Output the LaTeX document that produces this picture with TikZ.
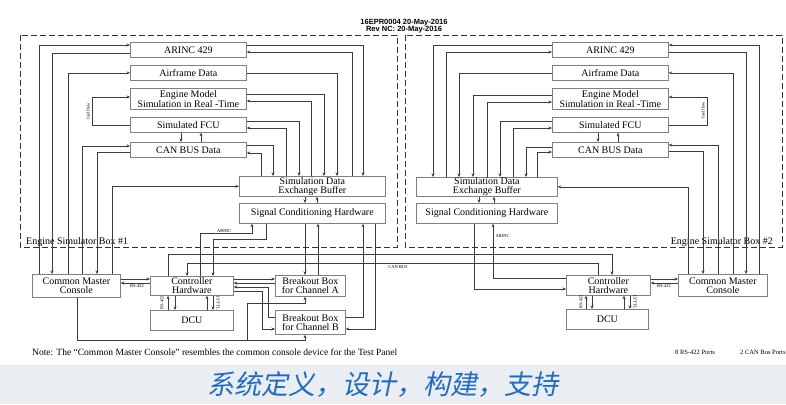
\documentclass[tikz,border=0pt]{standalone}
\usepackage{fontspec}
\setmainfont{Liberation Serif}
\setsansfont{Liberation Sans}
\newfontfamily\cjkfont[FakeSlant=0.2]{Noto Sans CJK SC}
\usetikzlibrary{arrows.meta}
\definecolor{BoxGray}{RGB}{128,128,128}
\definecolor{LineGray}{RGB}{60,60,60}
\definecolor{SloganBlue}{RGB}{31,108,196}
\definecolor{BandGray}{RGB}{234,237,241}
\tikzset{
    unit box/.style={draw=BoxGray, line width=0.7pt, fill=white, anchor=north west, inner sep=0pt, align=center, font=\fontsize{10}{9}\selectfont},
    link/.style={draw=LineGray, line width=0.6pt, -{Stealth[length=3.5pt,width=3pt]}},
    tiny label/.style={font=\fontsize{4.5}{5}\selectfont, inner sep=0.5pt},
    sim frame/.style={draw=black!80, line width=0.9pt, dash pattern=on 6pt off 3pt},
}

\begin{document}
\begin{tikzpicture}[x=1pt, y=-1pt]
    \useasboundingbox (0,0) rectangle (786,404);
    \fill[BandGray] (0,365) rectangle (786,404);

    % frames of the two simulator boxes
    \draw[sim frame] (20,35) rectangle (397,247);
    \draw[sim frame] (405,35) rectangle (782,247);
    \node[anchor=south west, inner sep=0pt, font=\fontsize{10}{9}\selectfont] (frameL) at (26,247) {Engine Simulator Box \#1};
    \node[anchor=south east, inner sep=0pt, font=\fontsize{10}{9}\selectfont] (frameR) at (773,247) {Engine Simulator Box \#2};
    \node[font=\sffamily\bfseries\fontsize{7.5}{7}\selectfont, align=center, inner sep=0pt] (hdr) at (404,26) {16EPR0004 20-May-2016\\Rev NC: 20-May-2016};

    % box #1
    \node[unit box, minimum width=116pt, minimum height=15pt] (arincL) at (130,42) {ARINC 429};
    \node[unit box, minimum width=116pt, minimum height=15pt] (airL) at (130,65) {Airframe Data};
    \node[unit box, minimum width=116pt, minimum height=21pt] (engL) at (130,88) {Engine Model\\Simulation in Real -Time};
    \node[unit box, minimum width=116pt, minimum height=15pt] (fcuL) at (130,117) {Simulated FCU};
    \node[unit box, minimum width=116pt, minimum height=15pt] (canL) at (130,142) {CAN BUS Data};
    \node[unit box, minimum width=146pt, minimum height=20pt] (bufL) at (239,176) {Simulation Data\\Exchange Buffer};
    \node[unit box, minimum width=146pt, minimum height=20pt] (sigL) at (239,203) {Signal Conditioning Hardware};

    % box #2
    \node[unit box, minimum width=116pt, minimum height=15pt] (arincR) at (552,42) {ARINC 429};
    \node[unit box, minimum width=116pt, minimum height=15pt] (airR) at (552,65) {Airframe Data};
    \node[unit box, minimum width=116pt, minimum height=21pt] (engR) at (552,88) {Engine Model\\Simulation in Real -Time};
    \node[unit box, minimum width=116pt, minimum height=15pt] (fcuR) at (552,117) {Simulated FCU};
    \node[unit box, minimum width=116pt, minimum height=15pt] (canR) at (552,142) {CAN BUS Data};
    \node[unit box, minimum width=141pt, minimum height=19pt] (bufR) at (416,177) {Simulation Data\\Exchange Buffer};
    \node[unit box, minimum width=141pt, minimum height=20pt] (sigR) at (416,203) {Signal Conditioning Hardware};

    % test bench
    \node[unit box, minimum width=88pt, minimum height=23pt] (cmcL) at (32,274) {Common Master\\Console};
    \node[unit box, minimum width=83pt, minimum height=19pt] (ctrlL) at (150,276) {Controller\\Hardware};
    \node[unit box, minimum width=83pt, minimum height=20pt] (dcuL) at (150,310) {DCU};
    \node[unit box, minimum width=70pt, minimum height=21pt] (bobA) at (275,275) {Breakout Box\\for Channel A};
    \node[unit box, minimum width=70pt, minimum height=24pt] (bobB) at (275,310) {Breakout Box\\for Channel B};
    \node[unit box, minimum width=84pt, minimum height=20pt] (ctrlR) at (566,275) {Controller\\Hardware};
    \node[unit box, minimum width=82pt, minimum height=20pt] (dcuR) at (566,309) {DCU};
    \node[unit box, minimum width=89pt, minimum height=22pt] (cmcR) at (678,274) {Common Master\\Console};

    % box #1 links
    \draw[link] (cmcL.north -| 39,0) |- (arincL.west |- 0,45);
    \draw[link] (arincL.west |- 0,53) -| (cmcL.north -| 52,0);
    \draw[link] (cmcL.north -| 68,0) |- (airL.west);
    \draw[link] (fcuL.west) -| (92,97) -- (engL.west |- 0,97);
    \node[tiny label, rotate=90] (fuelL) at (88,111) {fuel flow};
    \draw[link] (cmcL.north -| 82,0) |- (canL.west |- 0,146);
    \draw[link] (canL.west |- 0,152) -| (cmcL.north -| 97,0);
    \draw[link] (cmcL.north -| 112,0) |- (bufL.west);
    \draw[link] (arincL.east |- 0,45) -| (bufL.north -| 363,0);
    \draw[link] (bufL.north -| 352,0) |- (arincL.east |- 0,52);
    \draw[link] (airL.east) -| (bufL.north -| 337,0);
    \draw[link] (engL.east |- 0,94) -| (bufL.north -| 324,0);
    \draw[link] (bufL.north -| 311,0) |- (engL.east |- 0,101);
    \draw[link] (fcuL.east |- 0,121) -| (bufL.north -| 299,0);
    \draw[link] (bufL.north -| 286,0) |- (fcuL.east |- 0,128);
    \draw[link] (canL.east |- 0,145) -| (bufL.north -| 273,0);
    \draw[link] (bufL.north -| 261,0) |- (canL.east |- 0,153);
    \draw[link] (fcuL.south -| 181,0) -- (canL.north -| 181,0);
    \draw[link] (canL.north -| 201,0) -- (fcuL.south -| 201,0);
    \draw[link] (bufL.south -| 305,0) -- (sigL.north -| 305,0);
    \draw[link] (sigL.north -| 317,0) -- (bufL.south -| 317,0);

    % box #2 links
    \draw[link] (arincR.west |- 0,45) -| (bufR.north -| 433,0);
    \draw[link] (bufR.north -| 446,0) |- (arincR.west |- 0,52);
    \draw[link] (airR.west) -| (bufR.north -| 459,0);
    \draw[link] (engR.west |- 0,95) -| (bufR.north -| 473,0);
    \draw[link] (bufR.north -| 487,0) |- (engR.west |- 0,102);
    \draw[link] (fcuR.west |- 0,121) -| (bufR.north -| 500,0);
    \draw[link] (bufR.north -| 513,0) |- (fcuR.west |- 0,128);
    \draw[link] (canR.west |- 0,147) -| (bufR.north -| 526,0);
    \draw[link] (bufR.north -| 537,0) |- (canR.west |- 0,152);
    \draw[link] (fcuR.south -| 598,0) -- (canR.north -| 598,0);
    \draw[link] (canR.north -| 618,0) -- (fcuR.south -| 618,0);
    \draw[link] (fcuR.east) -| (707,97) -- (engR.east |- 0,97);
    \node[tiny label, rotate=90] (fuelR) at (703,110) {fuel flow};
    \draw[link] (bufR.south -| 479,0) -- (sigR.north -| 479,0);
    \draw[link] (sigR.north -| 494,0) -- (bufR.south -| 494,0);
    \draw[link] (cmcR.north -| 688,0) |- (bufR.east);
    \draw[link] (canR.east |- 0,151) -| (cmcR.north -| 703,0);
    \draw[link] (cmcR.north -| 718,0) |- (canR.east |- 0,145);
    \draw[link] (cmcR.north -| 733,0) |- (airR.east);
    \draw[link] (arincR.east |- 0,52) -| (cmcR.north -| 746,0);
    \draw[link] (cmcR.north -| 759,0) |- (arincR.east |- 0,45);

    % signal conditioning to bench
    \draw[link] (ctrlL.north -| 200,0) |- (252,233) -- (sigL.south -| 252,0);
    \node[tiny label, anchor=south] (arincTagL) at (224,233) {ARINC};
    \draw[link] (sigL.south -| 266,0) |- (213,239) -- (ctrlL.north -| 213,0);
    \draw[link] (sigL.south -| 305,0) -- (bobA.north -| 305,0);
    \draw[link] (bobA.north -| 318,0) -- (sigL.south -| 318,0);
    \draw[link] (bobB.east |- 0,317) -| (sigL.south -| 363,0);
    \draw[link] (sigL.south -| 375,0) |- (bobB.east |- 0,329);
    \draw[link] (sigR.south -| 474,0) |- (ctrlR.west |- 0,289);
    \draw[link] (ctrlR.west |- 0,278) -| (sigR.south -| 493,0);
    \node[tiny label, anchor=west] (arincTagR) at (495,236) {ARINC};

    % CAN bus between the controllers
    \draw[link] (ctrlL.north -| 168,0) |- (612,254) -- (ctrlR.north -| 612,0);
    \draw[link] (ctrlR.north -| 598,0) |- (187,263) -- (ctrlL.north -| 187,0);
    \node[tiny label, anchor=north] (canTag) at (398,265) {CAN BUS};

    % bench #1
    \draw[link] (cmcL.east |- 0,279) -- (ctrlL.west |- 0,279);
    \draw[link] (ctrlL.west |- 0,283) -- (cmcL.east |- 0,283);
    \node[tiny label, anchor=north] (rsTagL) at (137,284) {RS-422};
    \draw[link] (ctrlL.east |- 0,279) -- (bobA.west |- 0,279);
    \draw[link] (bobA.west |- 0,283) -- (ctrlL.east |- 0,283);
    \draw[link] (bobB.west |- 0,317) -| (268,287) -- (ctrlL.east |- 0,287);
    \draw[link] (ctrlL.east |- 0,291) -| (262,329) -- (bobB.west |- 0,329);
    \draw[link] (cmcL.south -| 77,0) |- (305,340) -- (bobB.south -| 305,0);
    \draw[link] (247,340) |- (305,303) -- (bobA.south -| 305,0);
    \draw[link] (dcuL.north -| 168,0) -- (ctrlL.south -| 168,0);
    \draw[link] (ctrlL.south -| 175,0) -- (dcuL.north -| 175,0);
    \draw[link] (dcuL.north -| 207,0) -- (ctrlL.south -| 207,0);
    \draw[link] (ctrlL.south -| 213,0) -- (dcuL.north -| 213,0);
    \node[tiny label, rotate=90] (dcuTagL1) at (162,303) {RS-422};
    \node[tiny label, rotate=-90] (dcuTagL2) at (218,303) {LVTTL};

    % bench #2
    \draw[link] (ctrlR.east |- 0,279) -- (cmcR.west |- 0,279);
    \draw[link] (cmcR.west |- 0,283) -- (ctrlR.east |- 0,283);
    \node[tiny label, anchor=north] (rsTagR) at (664,284) {RS-422};
    \draw[link] (dcuR.north -| 586,0) -- (ctrlR.south -| 586,0);
    \draw[link] (ctrlR.south -| 592,0) -- (dcuR.north -| 592,0);
    \draw[link] (dcuR.north -| 624,0) -- (ctrlR.south -| 624,0);
    \draw[link] (ctrlR.south -| 630,0) -- (dcuR.north -| 630,0);
    \node[tiny label, rotate=90] (dcuTagR1) at (581,302) {RS-422};
    \node[tiny label, rotate=-90] (dcuTagR2) at (635,302) {LVTTL};

    % notes
    \node[anchor=west, inner sep=0pt, font=\fontsize{9.5}{10}\selectfont] (note) at (32,352) {Note: The “Common Master Console” resembles the common console device for the Test Panel};
    \node[anchor=west, inner sep=0pt, font=\fontsize{6.5}{7}\selectfont] (ports8) at (675,352) {8 RS-422 Ports};
    \node[anchor=west, inner sep=0pt, font=\fontsize{6.5}{7}\selectfont] (ports2) at (740,352) {2 CAN Bus Ports};
    \node[font=\cjkfont\fontsize{27}{27}\selectfont, text=SloganBlue, inner sep=0pt] (slogan) at (383,385) {系统定义，设计，构建，支持};
\end{tikzpicture}
\end{document}
